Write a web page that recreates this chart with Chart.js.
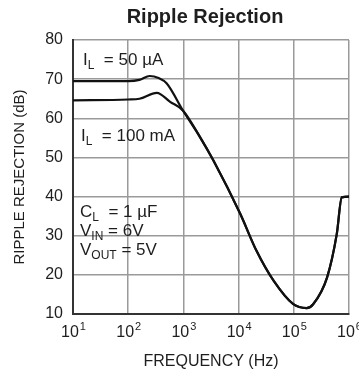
<!DOCTYPE html>
<html>
<head>
<meta charset="utf-8">
<script src="https://cdn.jsdelivr.net/npm/chart.js@4.4.1/dist/chart.umd.min.js"></script>
<style>
  html, body { margin: 0; padding: 0; background: #fff; }
  #wrap { width: 359px; height: 379px; }
</style>
</head>
<body>
<div id="wrap"><canvas id="myChart"></canvas></div>
<script>
"use strict";

// frequency (Hz) and ripple rejection (dB)
const freqLowLoad = [10, 100, 160, 245, 355, 500, 980, 2000, 3500, 10700, 21000, 43000, 98000, 170000, 224000, 400000, 600000, 740000, 1000000];
const rrLowLoad   = [69.5, 69.5, 69.8, 70.8, 70.3, 68.9, 62, 55.2, 49.2, 35.6, 26.2, 18.5, 12.5, 11.5, 12.5, 19.3, 30.4, 39.8, 40];

const freqHighLoad = [10, 100, 160, 330, 575, 980, 2000, 3500, 10700, 21000, 43000, 98000, 170000, 224000, 400000, 600000, 740000, 1000000];
const rrHighLoad   = [64.6, 64.8, 65.0, 66.5, 64.2, 62, 55.2, 49.2, 35.6, 26.2, 18.5, 12.5, 11.5, 12.5, 19.3, 30.4, 39.8, 40];

const seriesNames = ['IL = 50 µA', 'IL = 100 mA'];
const decadeTicks = [10, 100, 1000, 10000, 100000, 1000000];
const decadeExp = ['1', '2', '3', '4', '5', '6'];

const FONT = 'Liberation Sans, Arial, sans-serif';
const TEXT = '#1e1e1e';

function toPoints(xs, ys) {
    return xs.map((x, i) => ({ x: x, y: ys[i] }));
}

// text with subscripts: parts = [[text, isSub], ...]
function drawRich(ctx, parts, x, y) {
    let cx = x;
    parts.forEach(p => {
        if (p[1]) {
            ctx.font = '12px ' + FONT;
            ctx.fillText(p[0], cx, y + 5);
        } else {
            ctx.font = '17px ' + FONT;
            ctx.fillText(p[0], cx, y);
        }
        cx += ctx.measureText(p[0]).width;
    });
}

const labelsPlugin = {
    id: 'labelsPlugin',
    afterDraw(chart) {
        const ctx = chart.ctx;
        const a = chart.chartArea;
        const xs = chart.scales.x, ys = chart.scales.y;
        ctx.save();
        ctx.fillStyle = TEXT;
        ctx.textBaseline = 'middle';

        // title
        ctx.textAlign = 'center';
        ctx.font = 'bold 20px ' + FONT;
        ctx.fillText('Ripple Rejection', (a.left + a.right) / 2 - 6, 17);

        // x tick labels 10^n
        decadeTicks.forEach((v, i) => {
            const px = xs.getPixelForValue(v);
            ctx.font = '16px ' + FONT;
            const w1 = ctx.measureText('10').width;
            ctx.font = '11px ' + FONT;
            const w2 = ctx.measureText(decadeExp[i]).width;
            const sx = px - (w1 + w2) / 2;
            ctx.textAlign = 'left';
            ctx.font = '16px ' + FONT;
            ctx.fillText('10', sx, a.bottom + 19);
            ctx.font = '11px ' + FONT;
            ctx.fillText(decadeExp[i], sx + w1 + 1, a.bottom + 13);
        });

        // condition labels
        ctx.textAlign = 'left';
        const x0 = xs.getPixelForValue(13.4);
        drawRich(ctx, [['I', false], ['L', true], ['  = 50 µA', false]], x0 + 3, ys.getPixelForValue(74.8));
        drawRich(ctx, [['I', false], ['L', true], ['  = 100 mA', false]], x0 + 1, ys.getPixelForValue(55.4));
        drawRich(ctx, [['C', false], ['L', true], ['  = 1 µF', false]], x0, ys.getPixelForValue(36.0));
        drawRich(ctx, [['V', false], ['IN', true], [' = 6V', false]], x0, ys.getPixelForValue(31.0));
        drawRich(ctx, [['V', false], ['OUT', true], [' = 5V', false]], x0, ys.getPixelForValue(26.3));
        ctx.restore();
    }
};

const ctx = document.getElementById('myChart').getContext('2d');
const chart = new Chart(ctx, {
    type: 'line',
    data: {
        datasets: [
            {
                label: seriesNames[0],
                data: toPoints(freqLowLoad, rrLowLoad),
                borderColor: '#111',
                borderWidth: 2.2,
                pointRadius: 0,
                cubicInterpolationMode: 'monotone',
                fill: false
            },
            {
                label: seriesNames[1],
                data: toPoints(freqHighLoad, rrHighLoad),
                borderColor: '#111',
                borderWidth: 2.2,
                pointRadius: 0,
                cubicInterpolationMode: 'monotone',
                fill: false
            }
        ]
    },
    options: {
        responsive: true,
        maintainAspectRatio: false,
        animation: false,
        layout: { padding: { top: 40, right: 10, left: 0, bottom: 0 } },
        plugins: {
            legend: { display: false },
            tooltip: { enabled: false }
        },
        scales: {
            x: {
                type: 'logarithmic',
                min: 10,
                max: 1000000,
                afterBuildTicks(scale) {
                    scale.ticks = decadeTicks.map(v => ({ value: v }));
                },
                afterFit(scale) { scale.height = 65; },
                grid: { color: '#9a9a9a', lineWidth: 1.5, drawTicks: false },
                border: { color: '#333', width: 2 },
                ticks: { display: false },
                title: {
                    display: true,
                    text: 'FREQUENCY (Hz)',
                    color: TEXT,
                    font: { family: FONT, size: 16 },
                    padding: { bottom: 8 }
                }
            },
            y: {
                min: 10,
                max: 80,
                afterFit(scale) { scale.width = 73; },
                grid: { color: '#9a9a9a', lineWidth: 1.5, drawTicks: false },
                border: { color: '#333', width: 2 },
                ticks: {
                    stepSize: 10,
                    color: TEXT,
                    padding: 10,
                    font: { family: FONT, size: 16 }
                },
                title: {
                    display: true,
                    text: 'RIPPLE REJECTION (dB)',
                    color: TEXT,
                    font: { family: FONT, size: 15 },
                    padding: { top: 11 }
                }
            }
        }
    },
    plugins: [labelsPlugin]
});
</script>
</body>
</html>
